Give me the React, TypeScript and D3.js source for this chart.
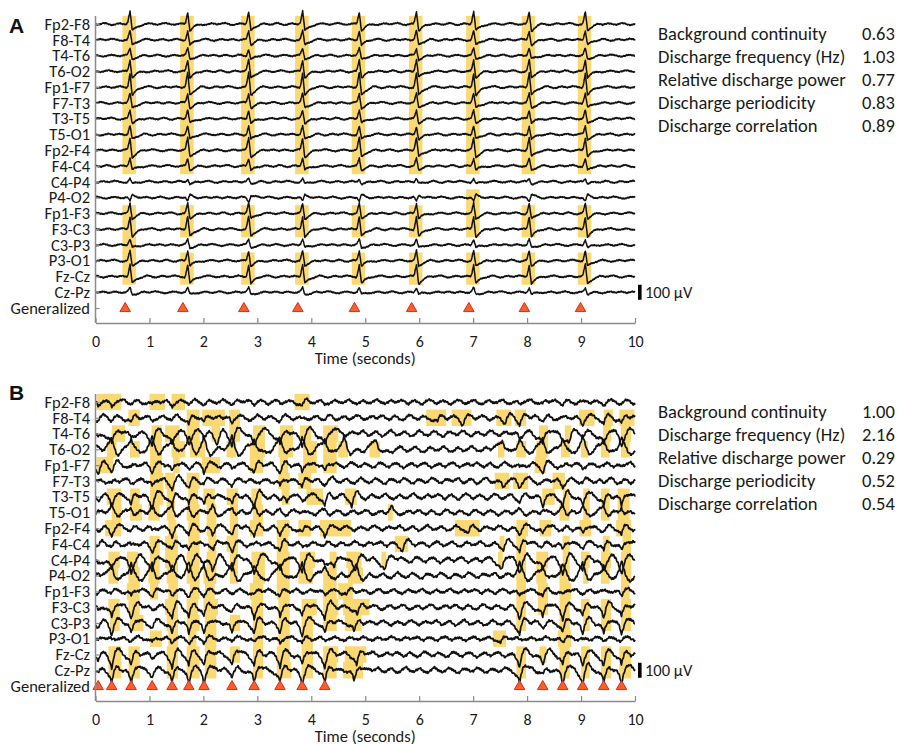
import React, { useEffect, useRef } from "react";
import * as d3 from "d3";

// ---------- shared labels ----------
const channels = [
  "Fp2-F8", "F8-T4", "T4-T6", "T6-O2", "Fp1-F7", "F7-T3", "T3-T5", "T5-O1",
  "Fp2-F4", "F4-C4", "C4-P4", "P4-O2", "Fp1-F3", "F3-C3", "C3-P3", "P3-O1",
  "Fz-Cz", "Cz-Pz",
];
const rowLabels = [...channels, "Generalized"];
const timeTicks = [0, 1, 2, 3, 4, 5, 6, 7, 8, 9, 10];
const metricLabels = [
  "Background continuity",
  "Discharge frequency (Hz)",
  "Relative discharge power",
  "Discharge periodicity",
  "Discharge correlation",
];
const metricValuesA = ["0.63", "1.03", "0.77", "0.83", "0.89"];
const metricValuesB = ["1.00", "2.16", "0.29", "0.52", "0.54"];
const scaleBarUv = 100;

// ---------- panel A ----------
const dischargesA = [0.55, 1.62, 2.75, 3.75, 4.8, 5.86, 6.92, 7.95, 8.99];
// spike amplitude per channel (µV)
const spikeAmpA = [80, 60, 45, 75, 95, 60, 55, 55, 80, 50, 22, -28, 65, 85, 35, 65, 80, 28];
const allA = [0, 1, 2, 3, 4, 5, 6, 7, 8];
// highlighted discharges (indices into dischargesA) per channel
const highlightA: number[][] = [
  allA, allA, allA, allA, allA, allA, allA, allA, allA, allA,
  [], [6], allA, allA, [0], allA, allA, [],
];
// spike waveform, 0.02 s per sample
const spikeShapeA = [0, 0.15, 0.6, 1.0, 0.2, -0.55, -0.5, -0.4, -0.32, -0.26, -0.2, -0.15, -0.11, -0.08, -0.05, -0.03, -0.01, 0];
// background activity (µV), 0.05 s per sample
const backgroundA = [0, 2, 1, -1, -2, 0, 3, 2, -1, -3, -2, 1, 2, 0, -1, 1, 3, 2, 0, -2, -3, -1, 1, 2, 1, -1, -2, 0, 2, 3, 1, -1, -2, -1, 1, 2, 0, -2, -1, 1, 3, 1, -1, -3, -2, 0, 2, 1, -1, 0, 2, 3, 1, -2, -3, -1, 1, 2, 0, -1, 1, 2, 0, -2];
const jitter = [0, 1.5, -1, 0.5, -1.5, 1, -0.5, 1.5, -1, 0, 1, -1.5, 0.5];

// ---------- panel B ----------
const dischargesB = [0.05, 0.3, 0.66, 1.05, 1.42, 1.73, 2.01, 2.53, 2.94, 3.42, 3.83, 4.25, 7.86, 8.29, 8.66, 9.03, 9.42, 9.75];
// signed discharge amplitude per channel (µV)
const dischargeAmpB = [30, 45, 80, -80, 50, 45, 70, -45, 45, 50, 80, -80, 30, 72, 78, 28, 78, 95];
const dischargeWidthB = [1, 1, 1.5, 1.5, 1, 1.2, 1, 1, 1, 1, 1.5, 1.5, 1, 1.1, 1.1, 1, 1.1, 1.1];
const backgroundScaleB = [0.7, 0.8, 0.9, 0.9, 0.8, 0.9, 0.9, 0.8, 0.8, 0.8, 0.9, 0.9, 0.7, 0.8, 0.8, 0.6, 0.8, 0.8];
// discharge waveform (positive = downward), 0.02 s per sample, centre at index 8
const dischargeShapeB = [0, 0.02, 0.05, 0.1, 0.17, 0.27, 0.4, 0.62, 1.0, 0.55, 0.15, -0.12, -0.28, -0.32, -0.28, -0.2, -0.13, -0.08, -0.04, -0.02, 0];
// background activity (µV), 0.04 s per sample
const backgroundB = [0, 12, 20, 8, -10, -18, -6, 10, 16, 4, -12, -22, -14, 4, 18, 24, 10, -6, -14, -8, 6, 14, 8, -6, -18, -20, -6, 12, 22, 14, -2, -12, -16, -4, 10, 18, 12, -4, -16, -24, -12, 6, 14, 10, -2, -10, -6, 8, 20, 16, 0, -14, -20, -10, 4, 12, 6, -8, -14, -4, 10, 22, 18, 2, -10, -16, -8, 6, 14, 8, -4];
// highlighted intervals [start, end] (s) per channel
const highlightB: number[][][] = [
  [[0.02, 0.48], [1.0, 1.29], [1.41, 1.66], [3.69, 3.97]],
  [[0.61, 0.82], [1.69, 1.93], [1.98, 2.4], [2.48, 2.68], [6.13, 6.5], [6.6, 6.97], [7.43, 7.71], [7.77, 7.98], [8.96, 9.25], [9.42, 9.59], [9.71, 9.99]],
  [[0.3, 0.55], [1.04, 1.23], [1.29, 1.56], [1.69, 1.93], [2.15, 2.31], [2.48, 2.68], [2.92, 3.14], [3.42, 3.66], [3.79, 4.0], [4.22, 4.5], [8.22, 8.39], [8.7, 8.82], [9.41, 9.56], [9.74, 9.93]],
  [[0.21, 0.39], [0.64, 0.82], [1.01, 1.23], [1.41, 1.66], [1.75, 2.03], [2.43, 2.61], [2.86, 3.14], [3.39, 3.66], [3.85, 4.1], [4.22, 4.47], [4.5, 4.68], [5.08, 5.27], [7.46, 7.58], [7.8, 7.98], [8.17, 8.39], [8.63, 8.79], [9.0, 9.13], [9.37, 9.53], [9.74, 9.9]],
  [[0.02, 0.33], [1.01, 1.23], [1.44, 1.56], [1.97, 2.31], [2.86, 3.11], [3.42, 3.57], [3.85, 4.1], [4.22, 4.47], [8.14, 8.35]],
  [[1.01, 1.26], [1.29, 1.47], [1.69, 1.93], [3.39, 3.6], [3.76, 4.0], [7.4, 7.67], [7.74, 8.02], [8.47, 8.7]],
  [[0.21, 0.48], [0.64, 0.82], [1.01, 1.26], [1.32, 1.47], [1.72, 1.9], [2.0, 2.21], [2.43, 2.64], [2.89, 3.08], [3.45, 3.6], [3.91, 4.22], [4.62, 4.84], [8.28, 8.51], [8.66, 8.79], [9.04, 9.16], [9.37, 9.53], [9.68, 9.9]],
  [[0.3, 0.48], [0.64, 0.86], [0.98, 1.19], [1.32, 1.47], [1.69, 1.93], [2.06, 2.24], [2.49, 2.64], [2.92, 3.11], [5.42, 5.51], [8.6, 8.79], [9.04, 9.16], [9.37, 9.53], [9.68, 9.9]],
  [[0.18, 0.48], [1.35, 1.5], [1.72, 1.93], [2.06, 2.24], [2.49, 2.64], [2.86, 3.11], [3.36, 3.6], [3.76, 4.0], [4.16, 4.74], [6.66, 7.12], [7.8, 8.02], [8.23, 8.45], [8.97, 9.19], [9.65, 9.93]],
  [[1.0, 1.19], [1.29, 1.53], [1.72, 1.93], [2.09, 2.24], [2.43, 2.64], [3.36, 3.57], [5.55, 5.79], [7.49, 7.58], [7.8, 7.98], [8.66, 8.79], [9.41, 9.53], [9.77, 9.93]],
  [[0.24, 0.45], [0.58, 0.79], [1.01, 1.19], [1.29, 1.53], [1.69, 1.93], [2.06, 2.24], [2.49, 2.64], [2.89, 3.14], [3.36, 3.6], [3.79, 4.07], [4.34, 4.47], [4.65, 4.93], [5.3, 5.39], [7.46, 7.55], [7.8, 7.98], [8.17, 8.39], [8.66, 8.79], [9.0, 9.16], [9.37, 9.56], [9.74, 9.93]],
  [[0.24, 0.42], [0.61, 0.82], [0.98, 1.19], [1.32, 1.53], [1.69, 1.93], [2.0, 2.24], [2.49, 2.64], [2.92, 3.14], [3.36, 3.6], [3.76, 4.03], [4.22, 4.47], [4.68, 4.96], [7.8, 7.98], [8.17, 8.36], [8.6, 8.79], [9.04, 9.13], [9.37, 9.53], [9.74, 9.93]],
  [[0.58, 0.82], [1.01, 1.16], [1.35, 1.53], [1.75, 1.93], [2.03, 2.21], [2.86, 3.11], [3.36, 3.6], [4.22, 4.47], [4.5, 4.77], [7.8, 7.98], [8.2, 8.39], [8.6, 8.82], [9.74, 9.9]],
  [[0.24, 0.45], [0.61, 0.82], [1.29, 1.53], [1.69, 1.9], [2.0, 2.27], [2.89, 3.11], [3.39, 3.6], [3.82, 4.1], [4.22, 4.5], [4.59, 5.08], [7.8, 7.98], [8.2, 8.39], [8.6, 8.79], [9.0, 9.16], [9.37, 9.56], [9.74, 9.93]],
  [[0.27, 0.45], [0.64, 0.89], [1.32, 1.53], [1.69, 1.93], [2.03, 2.24], [2.49, 2.68], [2.92, 3.11], [3.39, 3.6], [3.82, 4.03], [4.22, 4.47], [4.62, 4.93], [7.8, 7.98], [8.6, 8.79], [9.04, 9.16], [9.37, 9.56], [9.74, 9.93]],
  [[1.01, 1.23], [1.35, 1.53], [1.72, 1.87], [2.03, 2.24], [2.92, 3.11], [3.39, 3.6], [3.82, 4.03], [7.37, 7.61], [8.57, 8.82]],
  [[0.24, 0.48], [0.61, 0.82], [1.32, 1.53], [1.69, 1.93], [2.03, 2.24], [2.49, 2.68], [2.92, 3.11], [3.36, 3.6], [3.82, 4.03], [4.22, 4.5], [4.62, 5.02], [7.8, 7.98], [8.23, 8.36], [8.6, 8.79], [9.0, 9.16], [9.37, 9.56], [9.71, 9.93]],
  [[0.24, 0.48], [0.61, 0.82], [1.32, 1.53], [1.69, 1.93], [2.03, 2.24], [2.92, 3.11], [3.36, 3.63], [3.82, 4.03], [4.22, 4.47], [4.59, 4.96], [7.8, 7.98], [8.6, 8.79], [9.0, 9.16], [9.37, 9.56], [9.71, 9.93]],
];

// ---------- layout / style ----------
const W = 898;
const H = 744;
const FONT = "Carlito, Calibri, Lato, 'Open Sans', sans-serif";
const YELLOW = "#fad872";
const ROW_STEP = 15.78;

function sampleWrap(arr: number[], pos: number) {
  const n = arr.length;
  const p = ((pos % n) + n) % n;
  const i = Math.floor(p);
  const f = p - i;
  return arr[i] * (1 - f) + arr[(i + 1) % n] * f;
}
function sampleShape(arr: number[], pos: number) {
  if (pos <= 0 || pos >= arr.length - 1) return 0;
  const i = Math.floor(pos);
  const f = pos - i;
  return arr[i] * (1 - f) + arr[i + 1] * f;
}

export default function App() {
  const ref = useRef<SVGSVGElement | null>(null);

  useEffect(() => {
    const svg = d3.select(ref.current);
    svg.selectAll("*").remove();

    const x = d3.scaleLinear().domain([0, 10]).range([95.5, 635]);
    const uv = d3.scaleLinear().domain([0, 100]).range([0, 15]);
    const times = d3.range(0, 1001).map((i) => i / 100);
    const line = d3
      .line<[number, number]>()
      .x((d) => x(d[0]))
      .y((d) => d[1]);

    const drawPanel = (
      offset: number,
      letter: string,
      letterY: number,
      values: string[],
      discharges: number[],
      boxes: number[][][],
      traceValue: (c: number, t: number, i: number) => number,
      strokeW: number
    ) => {
      const g = svg.append("g");
      const y = d3
        .scalePoint<string>()
        .domain(rowLabels)
        .range([offset + 24, offset + 24 + 18 * ROW_STEP]);
      const axisY = offset + 323;
      const top = offset + 16;

      // highlight boxes
      boxes.forEach((list, c) => {
        list.forEach(([a, b]) => {
          g.append("rect")
            .attr("x", x(a))
            .attr("width", x(b) - x(a))
            .attr("y", (y(channels[c]) as number) - ROW_STEP / 2 - 0.3)
            .attr("height", ROW_STEP + 0.6)
            .attr("fill", YELLOW);
        });
      });

      // traces
      channels.forEach((ch, c) => {
        const base = y(ch) as number;
        const pts: [number, number][] = times.map((t, i) => [t, base - uv(traceValue(c, t, i))]);
        g.append("path")
          .attr("d", line(pts) as string)
          .attr("fill", "none")
          .attr("stroke", "#111")
          .attr("stroke-width", strokeW)
          .attr("stroke-linejoin", "round");
      });

      // generalized triangles
      const tri = d3.symbol().type(d3.symbolTriangle).size(48)();
      discharges.forEach((t) => {
        g.append("path")
          .attr("d", tri as string)
          .attr("transform", `translate(${x(t)},${(y("Generalized") as number) + 0.5})`)
          .attr("fill", "#f4622a")
          .attr("stroke", "#e3261c")
          .attr("stroke-width", 1);
      });

      // left axis
      const la = g
        .append("g")
        .attr("transform", `translate(${x(0)},0)`)
        .call(d3.axisLeft(y).tickSizeInner(-4).tickSizeOuter(0).tickPadding(5.5));
      la.select(".domain").remove();
      la.selectAll(".tick line").attr("stroke", "#8a8a8a").attr("stroke-width", 1.2);
      la.selectAll(".tick text")
        .attr("font-family", FONT)
        .attr("font-size", 16.5)
        .attr("fill", "#1a1a1a");
      g.append("line")
        .attr("x1", x(0))
        .attr("x2", x(0))
        .attr("y1", top)
        .attr("y2", axisY)
        .attr("stroke", "#8a8a8a")
        .attr("stroke-width", 1.5);

      // bottom axis
      const ba = g
        .append("g")
        .attr("transform", `translate(0,${axisY})`)
        .call(d3.axisBottom(x).tickValues(timeTicks).tickSizeInner(-5).tickSizeOuter(0).tickPadding(13));
      ba.select(".domain").attr("stroke", "#8a8a8a").attr("stroke-width", 1.5);
      ba.selectAll(".tick line").attr("stroke", "#8a8a8a").attr("stroke-width", 1.2);
      ba.selectAll(".tick text")
        .attr("font-family", FONT)
        .attr("font-size", 16)
        .attr("fill", "#1a1a1a");
      g.append("text")
        .attr("x", (x(0) + x(10)) / 2)
        .attr("y", axisY + 40.5)
        .attr("text-anchor", "middle")
        .attr("font-family", FONT)
        .attr("font-size", 16.5)
        .attr("fill", "#1a1a1a")
        .text("Time (seconds)");

      // scale bar
      const sy = y("Cz-Pz") as number;
      const bh = uv(scaleBarUv);
      g.append("rect")
        .attr("x", 638)
        .attr("width", 3.6)
        .attr("y", sy - bh / 2)
        .attr("height", bh)
        .attr("fill", "#000");
      g.append("text")
        .attr("x", 645)
        .attr("y", sy + 6)
        .attr("font-family", FONT)
        .attr("font-size", 16.5)
        .attr("fill", "#1a1a1a")
        .text("100 μV");

      // panel letter
      g.append("text")
        .attr("x", 9)
        .attr("y", letterY)
        .attr("font-family", "'Liberation Sans', Arial, sans-serif")
        .attr("font-weight", "bold")
        .attr("font-size", 21)
        .attr("fill", "#111")
        .text(letter);

      // metrics
      metricLabels.forEach((lab, k) => {
        const ty = offset + 39.5 + k * 23;
        g.append("text")
          .attr("x", 658)
          .attr("y", ty)
          .attr("font-family", FONT)
          .attr("font-size", 18.5)
          .attr("fill", "#1a1a1a")
          .text(lab);
        g.append("text")
          .attr("x", 862)
          .attr("y", ty)
          .attr("font-family", FONT)
          .attr("font-size", 18.5)
          .attr("fill", "#1a1a1a")
          .text(values[k]);
      });
    };

    // ----- panel A -----
    const boxesA = highlightA.map((idx) => idx.map((k) => [dischargesA[k] - 0.05, dischargesA[k] + 0.2]));
    const traceA = (c: number, t: number, i: number) => {
      let v = 2.4 * sampleWrap(backgroundA, t / 0.05 + c * 7 + 3) + 2.4 * jitter[(i + c * 5) % jitter.length];
      for (const d of dischargesA) v += spikeAmpA[c] * sampleShape(spikeShapeA, (t - d - 0.03) / 0.02);
      return v;
    };
    drawPanel(0, "A", 33, metricValuesA, dischargesA, boxesA, traceA, 1.5);

    // ----- panel B -----
    const eventsB = channels.map((_, c) => {
      const inBox = (e: number) => highlightB[c].some(([a, b]) => e >= a - 0.03 && e <= b + 0.03);
      const evs = dischargesB.map((e) => ({ t: e, k: inBox(e) ? 1 : 0.35 }));
      highlightB[c].forEach(([a, b]) => {
        if (!dischargesB.some((e) => e >= a - 0.03 && e <= b + 0.03)) evs.push({ t: (a + b) / 2 + 0.02, k: 0.9 });
      });
      return evs;
    });
    const traceB = (c: number, t: number, i: number) => {
      let v =
        backgroundScaleB[c] * sampleWrap(backgroundB, t / 0.04 + c * 9 + 2) +
        4.5 * jitter[(Math.floor(i / 2) + c * 3) % jitter.length];
      for (const ev of eventsB[c])
        v -= dischargeAmpB[c] * ev.k * sampleShape(dischargeShapeB, (t - ev.t) / (0.02 * dischargeWidthB[c]) + 8);
      return v;
    };
    drawPanel(378, "B", 400, metricValuesB, dischargesB, highlightB, traceB, 1.7);
  }, []);

  return (
    <svg
      ref={ref}
      width={W}
      height={H}
      style={{ position: "absolute", left: 0, top: 0, background: "#fff" }}
    />
  );
}
